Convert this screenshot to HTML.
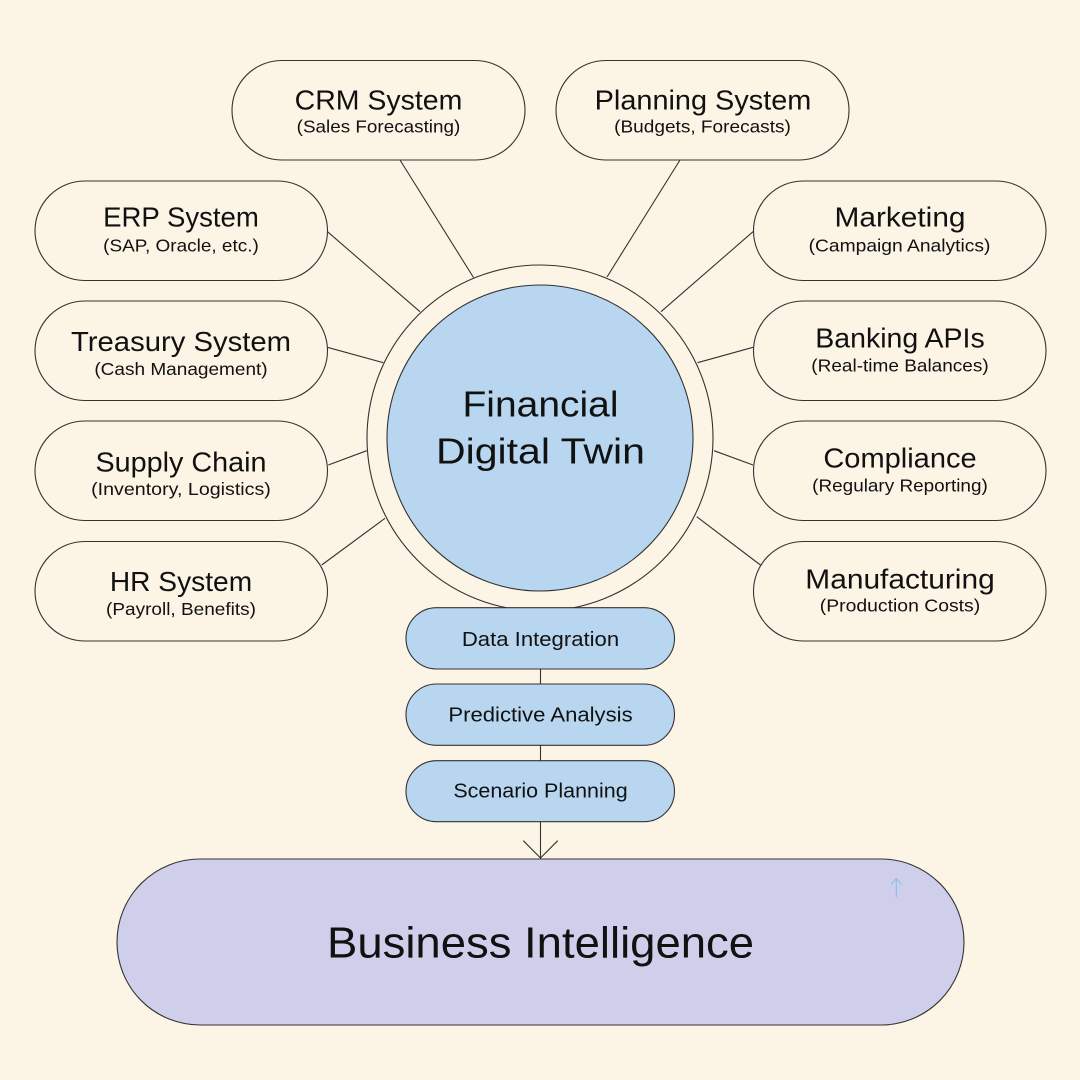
<!DOCTYPE html>
<html>
<head>
<meta charset="utf-8">
<style>
  html,body{margin:0;padding:0;background:#fcf4e5;}
  svg{display:block;}
  text{font-family:"Liberation Sans", Arial, sans-serif; fill:#111;}
</style>
</head>
<body>
<svg width="1080" height="1080" viewBox="0 0 1080 1080" xmlns="http://www.w3.org/2000/svg">
  <rect x="0" y="0" width="1080" height="1080" fill="#fcf4e5"/>

  <!-- connectors -->
  <g stroke="#333" stroke-width="1.1" fill="none">
    <line x1="400" y1="160" x2="473.5" y2="277.5"/>
    <line x1="680" y1="160" x2="607" y2="277"/>
    <line x1="327.5" y1="231.7" x2="420" y2="311.7"/>
    <line x1="327.3" y1="347.3" x2="383.3" y2="362.7"/>
    <line x1="328.3" y1="465" x2="366.7" y2="450.7"/>
    <line x1="321.7" y1="565" x2="385" y2="518.3"/>
    <line x1="753" y1="231.7" x2="661" y2="311.7"/>
    <line x1="753" y1="347.3" x2="697.5" y2="362.7"/>
    <line x1="753" y1="465" x2="714" y2="450.7"/>
    <line x1="760.4" y1="565" x2="696.7" y2="516.7"/>
  </g>

  <!-- center circles -->
  <circle cx="540" cy="438" r="173" fill="#fcf4e5" stroke="#333" stroke-width="1.1"/>
  <circle cx="540" cy="438" r="153" fill="#b8d6f0" stroke="#333" stroke-width="1.1"/>
  <text x="540.5" y="416.7" font-size="36.5" text-anchor="middle" textLength="156" lengthAdjust="spacingAndGlyphs">Financial</text>
  <text x="540.5" y="463.3" font-size="36.5" text-anchor="middle" textLength="209" lengthAdjust="spacingAndGlyphs">Digital Twin</text>

  <!-- pills -->
  <g fill="#fcf4e5" stroke="#333" stroke-width="1.1">
    <rect x="232" y="60.5" width="293" height="99.5" rx="49.75"/>
    <rect x="556" y="60.5" width="293" height="99.5" rx="49.75"/>
    <rect x="35" y="181" width="292.5" height="99.5" rx="49.75"/>
    <rect x="35" y="301" width="292.5" height="99.5" rx="49.75"/>
    <rect x="35" y="421" width="292.5" height="99.5" rx="49.75"/>
    <rect x="35" y="541.5" width="292.5" height="99.5" rx="49.75"/>
    <rect x="753.5" y="181" width="292.5" height="99.5" rx="49.75"/>
    <rect x="753.5" y="301" width="292.5" height="99.5" rx="49.75"/>
    <rect x="753.5" y="421" width="292.5" height="99.5" rx="49.75"/>
    <rect x="753.5" y="541.5" width="292.5" height="99.5" rx="49.75"/>
  </g>

  <!-- pill titles -->
  <g font-size="28" text-anchor="middle">
    <text x="378.5" y="109.5" textLength="167.7" lengthAdjust="spacingAndGlyphs">CRM System</text>
    <text x="703" y="109.5" textLength="216.7" lengthAdjust="spacingAndGlyphs">Planning System</text>
    <text x="181" y="226.7" textLength="155.7" lengthAdjust="spacingAndGlyphs">ERP System</text>
    <text x="181" y="351" textLength="220" lengthAdjust="spacingAndGlyphs">Treasury System</text>
    <text x="181" y="471.7" textLength="171" lengthAdjust="spacingAndGlyphs">Supply Chain</text>
    <text x="181" y="591" textLength="142.3" lengthAdjust="spacingAndGlyphs">HR System</text>
    <text x="900" y="226.7" textLength="131" lengthAdjust="spacingAndGlyphs">Marketing</text>
    <text x="900" y="347.3" textLength="169.4" lengthAdjust="spacingAndGlyphs">Banking APIs</text>
    <text x="900" y="467.7" textLength="153.3" lengthAdjust="spacingAndGlyphs">Compliance</text>
    <text x="900" y="588.3" textLength="189.4" lengthAdjust="spacingAndGlyphs">Manufacturing</text>
  </g>

  <!-- pill subtitles -->
  <g font-size="17.5" text-anchor="middle">
    <text x="378.5" y="132.5" textLength="163.6" lengthAdjust="spacingAndGlyphs">(Sales Forecasting)</text>
    <text x="702.5" y="132.5" textLength="176.7" lengthAdjust="spacingAndGlyphs">(Budgets, Forecasts)</text>
    <text x="181" y="251.7" textLength="155.6" lengthAdjust="spacingAndGlyphs">(SAP, Oracle, etc.)</text>
    <text x="181" y="375" textLength="173.3" lengthAdjust="spacingAndGlyphs">(Cash Management)</text>
    <text x="181" y="495" textLength="179.7" lengthAdjust="spacingAndGlyphs">(Inventory, Logistics)</text>
    <text x="181" y="615" textLength="150" lengthAdjust="spacingAndGlyphs">(Payroll, Benefits)</text>
    <text x="899.5" y="251.7" textLength="181.8" lengthAdjust="spacingAndGlyphs">(Campaign Analytics)</text>
    <text x="900" y="371.7" textLength="177.4" lengthAdjust="spacingAndGlyphs">(Real-time Balances)</text>
    <text x="900" y="491.7" textLength="175.6" lengthAdjust="spacingAndGlyphs">(Regulary Reporting)</text>
    <text x="900" y="611.7" textLength="160.4" lengthAdjust="spacingAndGlyphs">(Production Costs)</text>
  </g>

  <!-- process chain -->
  <g stroke="#333" stroke-width="1.1" fill="none">
    <line x1="540.5" y1="669" x2="540.5" y2="684"/>
    <line x1="540.5" y1="745.3" x2="540.5" y2="760.7"/>
    <line x1="540.5" y1="821.7" x2="540.5" y2="858"/>
    <polyline points="523.3,840.7 540.5,858 557.7,840.7"/>
  </g>
  <g fill="#b8d6f0" stroke="#333" stroke-width="1.1">
    <rect x="406" y="607.7" width="268.5" height="61.3" rx="30.6"/>
    <rect x="406" y="684" width="268.5" height="61.3" rx="30.6"/>
    <rect x="406" y="760.7" width="268.5" height="61" rx="30.5"/>
  </g>
  <g font-size="20" text-anchor="middle">
    <text x="540.5" y="646" textLength="157.3" lengthAdjust="spacingAndGlyphs">Data Integration</text>
    <text x="540.5" y="721.7" textLength="184.3" lengthAdjust="spacingAndGlyphs">Predictive Analysis</text>
    <text x="540.5" y="797.3" textLength="174.3" lengthAdjust="spacingAndGlyphs">Scenario Planning</text>
  </g>

  <!-- Business Intelligence -->
  <rect x="117" y="859" width="847" height="166" rx="83" fill="#d0cfeb" stroke="#333" stroke-width="1.1"/>
  <text x="540.5" y="957.7" font-size="44" text-anchor="middle" textLength="427" lengthAdjust="spacingAndGlyphs">Business Intelligence</text>

  <!-- small blue arrow -->
  <g stroke="#8fbdf0" stroke-width="1.2" fill="none">
    <line x1="896.3" y1="878.5" x2="896.3" y2="897"/>
    <polyline points="891,884.5 896.3,878.5 901.6,884.5"/>
  </g>
</svg>
</body>
</html>
